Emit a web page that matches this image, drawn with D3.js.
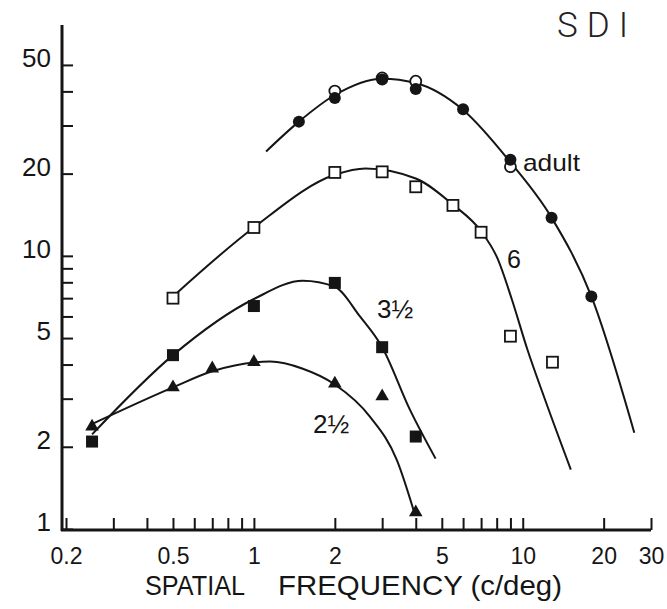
<!DOCTYPE html>
<html>
<head>
<meta charset="utf-8">
<script src="https://cdn.jsdelivr.net/npm/d3@7"></script>
<style>
  body { margin: 0; background: #fff; }
  svg { display: block; font-family: "Liberation Sans", Arial, sans-serif; }
</style>
</head>
<body>
<script>
// tick values
const xTicks = [0.3, 0.4, 0.5, 0.6, 0.7, 0.8, 0.9, 1, 2, 3, 4, 5, 6, 7, 8, 9, 10, 20, 30];
const xLabels = [0.2, 0.5, 1, 2, 5, 10, 20, 30];
const yTicks = [2, 3, 4, 5, 6, 7, 8, 9, 10, 20, 30, 40, 50];
const yLabels = [1, 2, 5, 10, 20, 50];

// adult : filled + open circles
const adultFilledX = [1.47, 2, 3, 4, 6, 9, 12.8, 18];
const adultFilledY = [31, 37.8, 44.2, 40.8, 34.4, 22.5, 13.8, 7.1];
const adultOpenX = [2, 3, 4, 9];
const adultOpenY = [40.1, 44.8, 43.6, 21.2];
const adultCurveX = [1.11, 1.47, 2, 3, 4, 6, 9, 12.8, 18, 26];
const adultCurveY = [24.1, 31, 38.8, 44.5, 42.9, 34.2, 22, 13.8, 7.1, 2.25];

// 6 months : open squares
const sixX = [0.5, 1, 2, 3, 4, 5.5, 7, 9, 12.9];
const sixY = [7, 12.7, 20.2, 20.3, 17.9, 15.3, 12.2, 5.08, 4.08];
const sixCurveX = [0.5, 1, 2, 2.6, 4, 5.5, 7, 8.07, 9.1, 10.4, 12.1, 15.1];
const sixCurveY = [7.1, 12.7, 19.8, 20.9, 19.2, 15.4, 12.3, 9.75, 6.95, 4.55, 2.98, 1.65];

// 3 1/2 months : filled squares
const threeX = [0.25, 0.5, 1, 2, 3, 4];
const threeY = [2.09, 4.33, 6.55, 7.96, 4.63, 2.18];
const threeCurveX = [0.25, 0.5, 1, 1.52, 2, 2.48, 3, 3.8, 4.74];
const threeCurveY = [2.22, 4.33, 6.95, 8.1, 7.7, 6.0, 4.63, 2.74, 1.81];

// 2 1/2 months : filled triangles
const twoX = [0.25, 0.5, 0.7, 1, 2, 3, 4];
const twoY = [2.37, 3.3, 3.87, 4.08, 3.41, 3.06, 1.15];
const twoCurveX = [0.245, 0.5, 0.7, 1.15, 1.52, 2, 2.7, 3.4, 3.97];
const twoCurveY = [2.4, 3.3, 3.78, 4.1, 3.86, 3.38, 2.58, 1.79, 1.13];

const width = 667, height = 609;
const ink = "#151515";

const svg = d3.select("body").append("svg")
    .attr("width", width)
    .attr("height", height);

const x = d3.scaleLog().domain([0.2, 30]).range([66, 651]);
const y = d3.scaleLog().domain([1, 70]).range([529, 25]);
const axisX = 62, axisY = 530;

const zip = (xs, ys) => xs.map((v, i) => [v, ys[i]]);

// axes (ticks inward)
const fmt = d => String(d);
svg.append("g")
    .attr("transform", `translate(${axisX},0)`)
    .call(d3.axisLeft(y).tickValues(yTicks.concat([1]))
        .tickSizeInner(-11).tickSizeOuter(0).tickPadding(11)
        .tickFormat(d => yLabels.includes(d) ? fmt(d) : ""))
    .call(g => g.select(".domain").remove())
    .call(g => g.selectAll(".tick line").attr("stroke", ink).attr("stroke-width", 2))
    .call(g => g.selectAll(".tick text").attr("fill", ink).attr("font-size", 26).attr("dy", "0.06em"));

svg.append("g")
    .attr("transform", `translate(0,${axisY})`)
    .call(d3.axisBottom(x).tickValues(xTicks.concat([0.2]))
        .tickSizeInner(-12).tickSizeOuter(0).tickPadding(18)
        .tickFormat(d => xLabels.includes(d) ? fmt(d) : ""))
    .call(g => g.select(".domain").remove())
    .call(g => g.selectAll(".tick line").attr("stroke", ink).attr("stroke-width", 2))
    .call(g => g.selectAll(".tick text").attr("fill", ink).attr("font-size", 23));

// axis lines
svg.append("line")
    .attr("x1", axisX).attr("x2", axisX)
    .attr("y1", y(70)).attr("y2", axisY + 1)
    .attr("stroke", ink).attr("stroke-width", 3);
svg.append("line")
    .attr("x1", axisX - 1).attr("x2", x(30))
    .attr("y1", axisY).attr("y2", axisY)
    .attr("stroke", ink).attr("stroke-width", 3);

// fitted curves
const line = d3.line()
    .x(d => x(d[0]))
    .y(d => y(d[1]))
    .curve(d3.curveMonotoneX);

[[adultCurveX, adultCurveY], [sixCurveX, sixCurveY],
 [threeCurveX, threeCurveY], [twoCurveX, twoCurveY]].forEach(([cx, cy]) => {
    svg.append("path")
        .attr("d", line(zip(cx, cy)))
        .attr("fill", "none")
        .attr("stroke", ink)
        .attr("stroke-width", 2);
});

// markers
svg.append("g").selectAll("circle")
    .data(zip(adultOpenX, adultOpenY))
    .join("circle")
    .attr("cx", d => x(d[0])).attr("cy", d => y(d[1]))
    .attr("r", 5.5)
    .attr("fill", "#fff").attr("stroke", ink).attr("stroke-width", 1.8);

svg.append("g").selectAll("circle")
    .data(zip(adultFilledX, adultFilledY))
    .join("circle")
    .attr("cx", d => x(d[0])).attr("cy", d => y(d[1]))
    .attr("r", 6)
    .attr("fill", ink);

svg.append("g").selectAll("rect")
    .data(zip(sixX, sixY))
    .join("rect")
    .attr("x", d => x(d[0]) - 5.5).attr("y", d => y(d[1]) - 5.5)
    .attr("width", 11).attr("height", 11)
    .attr("fill", "#fff").attr("stroke", ink).attr("stroke-width", 1.8);

svg.append("g").selectAll("rect")
    .data(zip(threeX, threeY))
    .join("rect")
    .attr("x", d => x(d[0]) - 6).attr("y", d => y(d[1]) - 6)
    .attr("width", 12).attr("height", 12)
    .attr("fill", ink);

const tri = d3.symbol().type(d3.symbolTriangle).size(80);
svg.append("g").selectAll("path")
    .data(zip(twoX, twoY))
    .join("path")
    .attr("d", tri)
    .attr("transform", d => `translate(${x(d[0])},${y(d[1])})`)
    .attr("fill", ink);

// curve labels
const labels = [
    { t: "adult", x: 523, y: 171, s: 24, len: 57 },
    { t: "6", x: 507, y: 268, s: 25 },
    { t: "3½", x: 377, y: 318, s: 26 },
    { t: "2½", x: 313, y: 433, s: 26 }
];
labels.forEach(l => {
    const t = svg.append("text")
        .attr("x", l.x).attr("y", l.y)
        .attr("font-size", l.s)
        .attr("fill", ink)
        .text(l.t);
    if (l.len) t.attr("textLength", l.len).attr("lengthAdjust", "spacingAndGlyphs");
});

// axis title
svg.append("text")
    .attr("x", 145).attr("y", 595)
    .attr("font-size", 28).attr("fill", ink)
    .attr("textLength", 100).attr("lengthAdjust", "spacingAndGlyphs")
    .text("SPATIAL");
svg.append("text")
    .attr("x", 278).attr("y", 595)
    .attr("font-size", 28).attr("fill", ink)
    .attr("textLength", 284).attr("lengthAdjust", "spacingAndGlyphs")
    .text("FREQUENCY (c/deg)");

// subject
svg.append("text")
    .attr("x", 557).attr("y", 37)
    .attr("font-size", 35)
    .attr("font-weight", 300)
    .attr("font-family", "Roboto, 'Open Sans', sans-serif")
    .attr("fill", "#222")
    .attr("textLength", 71).attr("lengthAdjust", "spacing")
    .text("SDI");
</script>
</body>
</html>
